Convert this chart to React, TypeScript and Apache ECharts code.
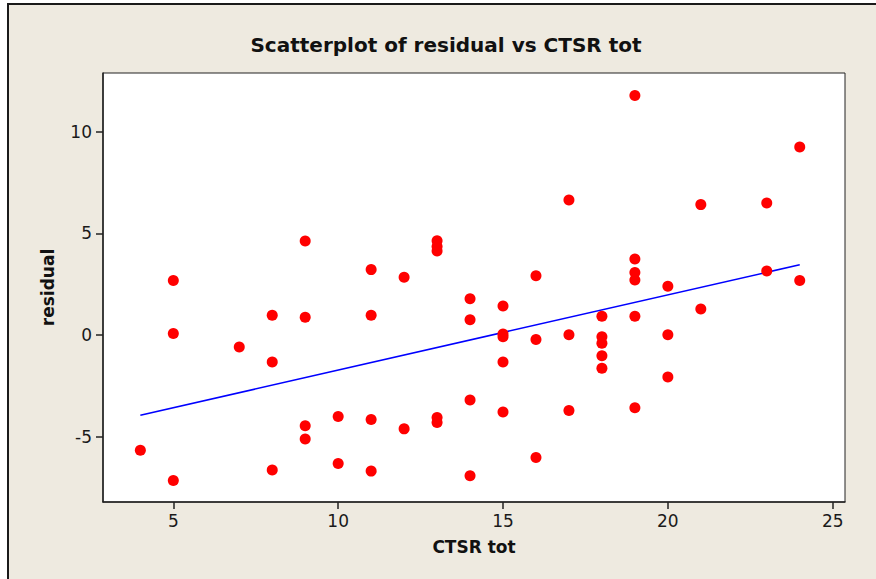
import React, { useEffect, useRef } from "react";
import * as echarts from "echarts";

// CTSR tot (x) and residual (y)
const ctsrTot: number[] = [
  4,
  5, 5, 5,
  7,
  8, 8, 8,
  9, 9, 9, 9,
  10, 10,
  11, 11, 11, 11,
  12, 12,
  13, 13, 13, 13, 13,
  14, 14, 14, 14,
  15, 15, 15, 15, 15,
  16, 16, 16,
  17, 17, 17,
  18, 18, 18, 18, 18,
  19, 19, 19, 19, 19, 19,
  20, 20, 20,
  21, 21,
  23, 23,
  24, 24,
];
const residual: number[] = [
  -5.67,
  2.69, 0.08, -7.16,
  -0.59,
  0.97, -1.33, -6.64,
  4.63, 0.87, -4.47, -5.12,
  -4.01, -6.32,
  3.22, 0.97, -4.16, -6.7,
  2.84, -4.62,
  4.64, 4.36, 4.14, -4.06, -4.31,
  1.79, 0.75, -3.2, -6.93,
  1.43, 0.05, -0.08, -1.33, -3.79,
  2.92, -0.22, -6.03,
  6.65, 0.01, -3.71,
  0.92, -0.08, -0.41, -1.02, -1.63,
  11.79, 3.74, 3.08, 2.71, 0.92, -3.58,
  2.4, 0.01, -2.07,
  6.42, 1.28,
  6.5, 3.15,
  9.26, 2.69,
];

// fitted line end points
const fitX: number[] = [4, 24];
const fitY: number[] = [-3.95, 3.46];

const xTicks: number[] = [5, 10, 15, 20, 25];
const yTicks: number[] = [-5, 0, 5, 10];

const titleText = "Scatterplot of residual vs CTSR tot";
const xName = "CTSR tot";
const yName = "residual";

const FONT = "'DejaVu Sans', Verdana, sans-serif";

export default function App() {
  const ref = useRef<HTMLDivElement>(null);

  useEffect(() => {
    if (!ref.current) return;
    const chart = echarts.init(ref.current, undefined, { renderer: "svg" });
    const points = ctsrTot.map((x, i) => [x, residual[i]]);
    const fit = fitX.map((x, i) => [x, fitY[i]]);

    chart.setOption({
      animation: false,
      backgroundColor: "#ffffff",
      textStyle: { fontFamily: FONT },
      graphic: [
        {
          type: "rect",
          z: -10,
          silent: true,
          shape: { x: 8, y: 4, width: 900, height: 600 },
          style: { fill: "#EEEAE0", stroke: "#1a1a1a", lineWidth: 2 },
        },
        {
          type: "text",
          x: 446,
          y: 45,
          style: {
            text: titleText,
            fontFamily: FONT,
            fontWeight: "bold",
            fontSize: 20,
            fill: "#111",
            textAlign: "center",
            textVerticalAlign: "middle",
          },
        },
      ],
      grid: {
        left: 103,
        top: 73,
        right: 31,
        bottom: 77,
        show: true,
        backgroundColor: "#ffffff",
        borderColor: "#222",
        borderWidth: 1,
      },
      xAxis: {
        type: "value",
        min: 2.867,
        max: 25.373,
        name: xName,
        nameLocation: "middle",
        nameGap: 36,
        nameTextStyle: { fontFamily: FONT, fontWeight: "bold", fontSize: 17, color: "#111" },
        axisLine: { show: true, onZero: false, lineStyle: { color: "#222", width: 1.5 } },
        axisTick: { show: true, inside: false, length: 7, customValues: xTicks, lineStyle: { color: "#222", width: 1.5 } },
        axisLabel: { customValues: xTicks, margin: 10, fontFamily: FONT, fontSize: 17, color: "#1a1a1a" },
        splitLine: { show: false },
      },
      yAxis: {
        type: "value",
        min: -8.22,
        max: 12.9,
        name: yName,
        nameLocation: "middle",
        nameGap: 47,
        nameRotate: 90,
        nameTextStyle: { fontFamily: FONT, fontWeight: "bold", fontSize: 17, color: "#111" },
        axisLine: { show: true, onZero: false, lineStyle: { color: "#222", width: 1.5 } },
        axisTick: { show: true, inside: false, length: 7, customValues: yTicks, lineStyle: { color: "#222", width: 1.5 } },
        axisLabel: { customValues: yTicks, margin: 11, fontFamily: FONT, fontSize: 17, color: "#1a1a1a" },
        splitLine: { show: false },
      },
      series: [
        {
          type: "line",
          data: fit,
          symbol: "none",
          lineStyle: { color: "#0000FF", width: 1.5 },
          z: 2,
        },
        {
          type: "scatter",
          data: points,
          symbol: "circle",
          symbolSize: 11,
          itemStyle: { color: "#FF0000", opacity: 1 },
          z: 3,
        },
      ],
    });
    return () => chart.dispose();
  }, []);

  return (
    <div
      ref={ref}
      style={{ position: "absolute", left: 0, top: 0, width: 876, height: 579 }}
    />
  );
}
